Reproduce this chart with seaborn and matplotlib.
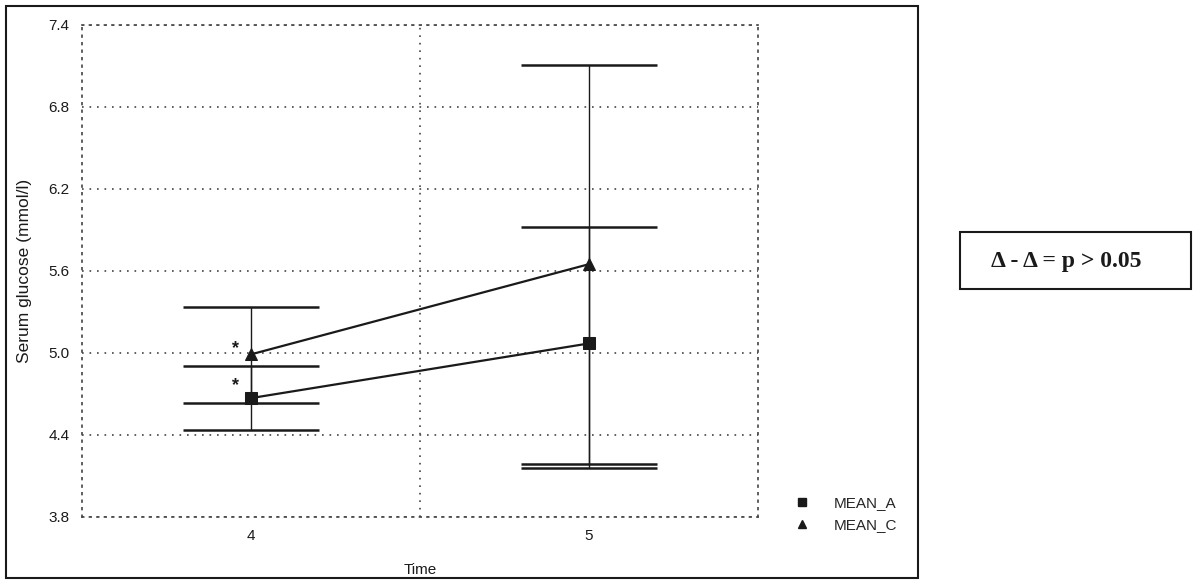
import matplotlib
matplotlib.use("Agg")
import matplotlib.pyplot as plt
import seaborn as sns
import pandas as pd
from matplotlib.lines import Line2D
from matplotlib.patches import Rectangle

# ---- data ----
time_points = [4, 5]
mean_a = [4.67, 5.07]
mean_a_low = [4.44, 4.16]
mean_a_high = [4.905, 5.92]
mean_c = [4.99, 5.65]
mean_c_low = [4.636, 4.19]
mean_c_high = [5.34, 7.11]
series_names = ["MEAN_A", "MEAN_C"]
y_ticks = [3.8, 4.4, 5.0, 5.6, 6.2, 6.8, 7.4]
y_tick_labels = ["3.8", "4.4", "5.0", "5.6", "6.2", "6.8", "7.4"]
star_points = [(3.955, 5.03), (3.955, 4.76)]

sns.set_theme(style="white")
plt.rcParams['font.family'] = ['Liberation Sans', 'DejaVu Sans']

fig = plt.figure(figsize=(12.01, 5.80), dpi=100)
ax = fig.add_axes([82/1201, 1-517/580, (758-82)/1201, (517-25)/580])

df = pd.DataFrame({
    "Time": time_points * 2,
    "value": mean_a + mean_c,
    "series": [series_names[0]] * 2 + [series_names[1]] * 2,
})

ink = "#1a1a1a"
grid_c = "#444444"
dots = (0, (1, 3.5))
# error bars
for m, lo, hi in [(mean_a, mean_a_low, mean_a_high), (mean_c, mean_c_low, mean_c_high)]:
    yerr = [[v - l for v, l in zip(m, lo)], [h - v for v, h in zip(m, hi)]]
    ax.errorbar(time_points, m, yerr=yerr, fmt="none", ecolor=ink,
                elinewidth=1.0, capsize=49, capthick=1.8, zorder=2)

sns.lineplot(data=df, x="Time", y="value", hue="series", style="series",
             markers={"MEAN_A": "s", "MEAN_C": "^"}, dashes=False,
             palette={"MEAN_A": ink, "MEAN_C": ink}, markersize=8,
             linewidth=1.6, markeredgecolor=ink, legend=False, ax=ax, zorder=3)

for (sx, sy) in star_points:
    ax.text(sx, sy, "*", ha="center", va="center", fontsize=13, fontweight="bold", color=ink)

ax.set_xlim(3.5, 5.5)
ax.set_ylim(3.8, 7.4)
ax.set_xticks(time_points)
ax.set_xticklabels([str(t) for t in time_points], fontsize=11, color=ink)
ax.set_yticks(y_ticks)
ax.set_yticklabels(y_tick_labels, fontsize=11, color=ink)
ax.tick_params(axis="both", length=0, pad=9)
ax.set_xticks([4.5], minor=True)
ax.tick_params(axis="x", which="minor", length=0)
ax.grid(False)
ax.grid(True, axis="y", which="major", linestyle=dots, color=grid_c, linewidth=1.2)
ax.grid(True, axis="x", which="minor", linestyle=dots, color=grid_c, linewidth=1.2)
for s in ax.spines.values():
    s.set_visible(True)
    s.set_linestyle(dots)
    s.set_color(grid_c)
    s.set_linewidth(1.2)

ax.set_xlabel("Time", fontsize=11, color=ink, labelpad=14)
ax.set_ylabel("Serum glucose (mmol/l)", fontsize=12.5, color=ink, labelpad=12)

handles = [Line2D([], [], marker="s", linestyle="none", color=ink, markersize=6),
           Line2D([], [], marker="^", linestyle="none", color=ink, markersize=6)]
fig.legend(handles, series_names, loc="upper left", bbox_to_anchor=(788/1201, 1-490/580),
           frameon=False, fontsize=11, handlelength=1.0, handletextpad=1.6,
           labelspacing=0.55, borderaxespad=0)

# outer frame
fig.patches.append(Rectangle((6/1201, 2/580), 912/1201, 572/580, transform=fig.transFigure,
                             fill=False, edgecolor=ink, linewidth=1.5))
# p-value box
fig.patches.append(Rectangle((960/1201, 1-289/580), 231/1201, 57/580, transform=fig.transFigure,
                             fill=False, edgecolor=ink, linewidth=1.5))
fig.text(1066/1201, 1-261/580, "\u0394 - \u0394 = p > 0.05", ha="center", va="center",
         fontsize=17, fontweight="bold", family=["Liberation Serif", "DejaVu Serif"], color=ink)

fig.savefig("out.png", dpi=100)
